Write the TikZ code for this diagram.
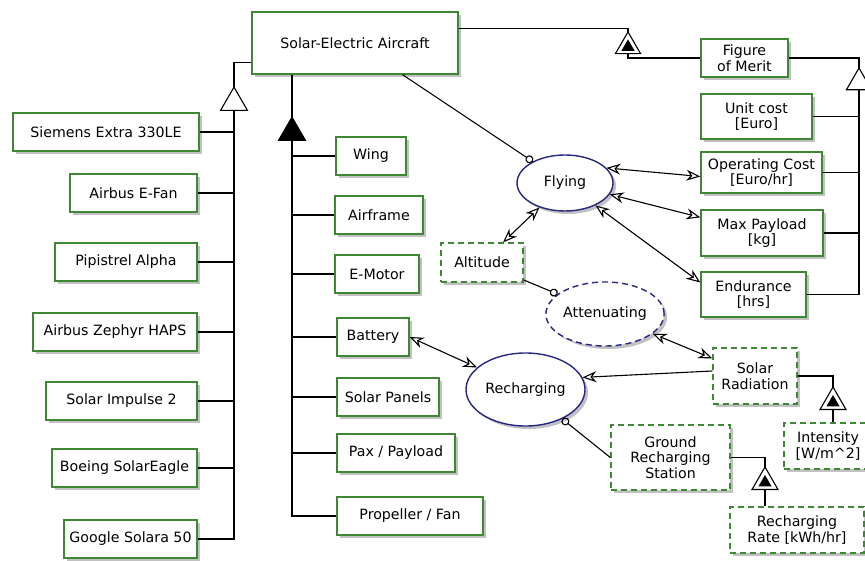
\documentclass[tikz,border=0pt]{standalone}
\usepackage{fontspec}
\setmainfont{DejaVu Sans}
\usetikzlibrary{shapes.geometric,arrows.meta,shadows,calc}
\definecolor{objgreen}{RGB}{62,135,55}
\definecolor{procblue}{RGB}{40,40,130}
\begin{document}
\begin{tikzpicture}[x=1pt,y=-1pt,
  font=\fontsize{14.2}{15.5}\selectfont,
  sz/.style 2 args={minimum width=#1pt, minimum height=#2pt},
  shad/.style={drop shadow={shadow xshift=3pt, shadow yshift=-3pt, fill=black!35, opacity=.7}},
  obj/.style={draw=objgreen, line width=1.4pt, fill=white, align=center, inner sep=0pt, shad},
  envobj/.style={obj, dash pattern=on 6pt off 4pt},
  proc/.style={ellipse, draw=procblue, line width=1.4pt, fill=white, inner sep=0pt, shad},
  envproc/.style={proc, dash pattern=on 6pt off 4pt},
  tri/.style={regular polygon, regular polygon sides=3, draw=black, line width=1.1pt, inner sep=0pt, outer sep=0pt, fill=white},
  conn/.style={draw=black, line width=1.1pt},
  tree/.style={draw=black, line width=1.4pt},
  tip/.tip={Stealth[open, length=14pt, width=11pt, inset=4.5pt, line width=1.1pt]},
  inst/.style={conn, -{Circle[open, length=8pt, line width=1.1pt]}},
  eff/.style={conn, tip-tip},
  res/.style={conn, -tip}
]
\useasboundingbox (0,0) rectangle (865,561);
\clip (0,0) rectangle (865,561);

% main object
\node[obj, sz={206}{62}] (sea) at (355,43) {Solar-Electric Aircraft};

% specializations
\node[obj, sz={186}{38}] (siemens) at (106,132) {Siemens Extra 330LE};
\node[obj, sz={127}{38}] (efan) at (133.5,193) {Airbus E-Fan};
\node[obj, sz={142}{38}] (pipistrel) at (126,262) {Pipistrel Alpha};
\node[obj, sz={164}{38}] (zephyr) at (115,332) {Airbus Zephyr HAPS};
\node[obj, sz={151}{38}] (impulse) at (121.5,401) {Solar Impulse 2};
\node[obj, sz={145}{38}] (eagle) at (124.5,468) {Boeing SolarEagle};
\node[obj, sz={133}{38}] (solara) at (130.5,539) {Google Solara 50};

% parts
\node[obj, sz={70}{38}] (wing) at (371,156) {Wing};
\node[obj, sz={88}{38}] (airframe) at (379,215) {Airframe};
\node[obj, sz={84}{38}] (emotor) at (377,274) {E-Motor};
\node[obj, sz={72}{38}] (battery) at (373,337) {Battery};
\node[obj, sz={102}{38}] (panels) at (388,397) {Solar Panels};
\node[obj, sz={118}{38}] (pax) at (396,453) {Pax / Payload};
\node[obj, sz={146}{38}] (prop) at (410,516) {Propeller / Fan};

% figures of merit
\node[obj, sz={87}{38}] (fom) at (744.5,58) {Figure\\of Merit};
\node[obj, sz={111}{45}] (unitcost) at (756.5,116.5) {Unit cost\\{[Euro]}};
\node[obj, sz={121}{41}] (opcost) at (761.5,172.5) {Operating Cost\\{[Euro/hr]}};
\node[obj, sz={122}{46}] (maxpay) at (762,233) {Max Payload\\{[kg]}};
\node[obj, sz={105}{45}] (endurance) at (753.5,294.5) {Endurance\\{[hrs]}};

% environment objects
\node[envobj, sz={82}{39}] (altitude) at (482,262.5) {Altitude};
\node[envobj, sz={84}{56}] (solar) at (755,376) {Solar\\Radiation};
\node[envobj, sz={119}{65}] (grs) at (670.5,457.5) {Ground\\Recharging\\Station};
\node[envobj, sz={134}{46}] (rrate) at (797,530) {Recharging\\Rate [kWh/hr]};
\node[envobj, sz={88}{46}] (intensity) at (828,446) {Intensity\\{[W/m\^{}2]}};

% processes
\node[proc, sz={96}{56}] (flying) at (565,183) {Flying};
\node[envproc, sz={104}{64}] (atten) at (605,314) {Attenuating};
\node[proc, sz={119}{73}] (rech) at (525.5,389.5) {Recharging};

% structural triangles
\node[tri, minimum size=31pt] (gen1) at (234,102.6) {};
\node[tri, fill=black, minimum size=31pt] (agg) at (292,132.6) {};
\node[tri, minimum size=29pt] (exh1) at (628,46.4) {};
\node[tri, fill=black, minimum size=13pt] (exh1i) at (628,47) {};
\node[tri, minimum size=29pt] (gen2) at (859,82.5) {};
\node[tri, minimum size=30pt] (exh2) at (833,402) {};
\node[tri, fill=black, minimum size=13pt] (exh2i) at (833,402.6) {};
\node[tri, minimum size=30pt] (exh3) at (765,482) {};
\node[tri, fill=black, minimum size=13pt] (exh3i) at (765,482.6) {};

% generalization tree (left)
\draw[conn] ($(sea.south west)+(0,-12)$) -| (gen1.north);
\draw[tree] (gen1.south) |- (solara.east);
\foreach \n in {siemens,efan,pipistrel,zephyr,impulse,eagle}
  \draw[conn] (\n.east) -- (\n.east -| gen1.south);

% aggregation tree
\draw[conn] (agg.north |- sea.south) -- (agg.north);
\draw[tree] (agg.south) |- (prop.west);
\foreach \n in {wing,airframe,emotor,battery,panels,pax}
  \draw[conn] (\n.west) -- (\n.west -| agg.south);

% exhibition to figure of merit
\draw[conn] ($(sea.north east)+(0,17)$) -| (exh1.north);
\draw[conn] (exh1.south) |- (fom.west);
\draw[conn] (fom.east) -| (gen2.north);
\draw[tree] (gen2.south) |- (endurance.east);
\foreach \n in {unitcost,opcost,maxpay}
  \draw[conn] (\n.east) -- (\n.east -| gen2.south);

% attributes
\draw[conn] (grs.east) -| (exh3.north);
\draw[conn] (exh3.south) -- (exh3.south |- rrate.north);
\draw[conn] (solar.east) -| (exh2.north);
\draw[conn] (exh2.south) -- (exh2.south |- intensity.north);

% procedural links
\draw[inst] (sea) -- (flying);
\draw[eff] (flying.20) -- ([yshift=-4pt]opcost.west);
\draw[eff] (flying) -- (maxpay);
\draw[eff] (flying) -- ([yshift=12pt]endurance.west);
\draw[eff] (flying) -- (altitude);
\draw[inst] (altitude) -- (atten);
\draw[eff] (atten) -- (solar);
\draw[res] ([yshift=5pt]solar.west) -- (rech.12);
\draw[eff] (battery.east) -- (rech);
\draw[inst] (grs.west) -- (rech);
\end{tikzpicture}
\end{document}
